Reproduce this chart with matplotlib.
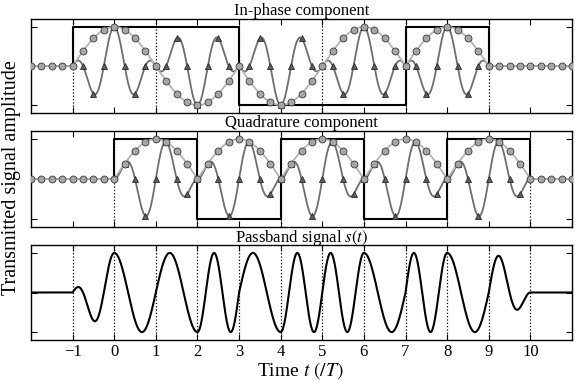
import numpy as np
import matplotlib
matplotlib.use("Agg")
import matplotlib.pyplot as plt

# ---- data ----
T = 1.0                       # symbol period
fc = 1.0                      # carrier frequency (1/T)
i_bit_starts = [-1, 1, 3, 5, 7]     # each in-phase bit lasts 2T
i_bits = [1, 1, -1, -1, 1]
q_bit_starts = [0, 2, 4, 6, 8]      # quadrature bits offset by T
q_bits = [1, -1, 1, -1, 1]
x_ticks = list(range(-1, 11))
x_ticklabels = [str(v).replace('-', '\u2212') for v in x_ticks]
titles = ["In-phase component", "Quadrature component", "Passband signal $s(t)$"]

plt.rcParams['font.family'] = ['Liberation Serif', 'DejaVu Serif']
plt.rcParams['mathtext.fontset'] = 'stix'


def bit_wave(t, starts, bits):
    a = np.zeros_like(t)
    for s, b in zip(starts, bits):
        a[(t >= s) & (t < s + 2 * T)] = b
    return a


t = np.linspace(-2, 11, 4001)
tm = np.arange(-2, 11.001, 0.25)

aI = bit_wave(t, i_bit_starts, i_bits)
aQ = bit_wave(t, q_bit_starts, q_bits)
I = aI * np.cos(np.pi * t / (2 * T))
Q = aQ * np.sin(np.pi * t / (2 * T))
Ic = I * np.cos(2 * np.pi * fc * t)
Qs = Q * np.sin(2 * np.pi * fc * t)
s = Ic + Qs

aIm = bit_wave(tm, i_bit_starts, i_bits)
aQm = bit_wave(tm, q_bit_starts, q_bits)
Im = aIm * np.cos(np.pi * tm / (2 * T))
Qm = aQm * np.sin(np.pi * tm / (2 * T))
Icm = Im * np.cos(2 * np.pi * fc * tm)
Qsm = Qm * np.sin(2 * np.pi * fc * tm)

fig = plt.figure(figsize=(5.75, 3.83), dpi=100)
L, W = 31 / 575, (572 - 31) / 575
tops = [19, 131, 245]
bots = [113, 227, 340]
axes = []
for tp, bt in zip(tops, bots):
    ax = fig.add_axes([L, 1 - bt / 383, W, (bt - tp) / 383])
    axes.append(ax)


def square(starts, bits):
    xs, ys = [starts[0]], [0]
    for st, b in zip(starts, bits):
        xs += [st, st + 2 * T]
        ys += [b, b]
    xs.append(starts[-1] + 2 * T)
    ys.append(0)
    return xs, ys


light_line = '#b4b4b4'
dark_line = '#6e6e6e'

panels = [
    (i_bit_starts, i_bits, I, Ic, Im, Icm, aIm),
    (q_bit_starts, q_bits, Q, Qs, Qm, Qsm, aQm),
]
for ax, (starts, bits, env, mod, envm, modm, am) in zip(axes[:2], panels):
    bounds = [starts[0]] + [st + 2 * T for st in starts]
    for b in bounds:
        ax.axvline(b, color='black', ls=':', lw=0.9, zorder=1)
    xs, ys = square(starts, bits)
    ax.plot(xs, ys, color='black', lw=1.5, zorder=2)
    ax.plot(t, mod, color=dark_line, lw=1.3, zorder=3)
    active = (tm > starts[0]) & (tm < starts[-1] + 2 * T)
    ax.plot(tm[active], modm[active], ls='none', marker='^', ms=5,
            mfc='#5e5e5e', mec='#2a2a2a', mew=0.6, zorder=4)
    ax.plot(t, env, color=light_line, lw=1.3, zorder=5)
    ax.plot(tm, envm, ls='none', marker='o', ms=5,
            mfc='#a6a6a6', mec='#3a3a3a', mew=0.6, zorder=6)

ax = axes[2]
for b in x_ticks:
    ax.axvline(b, color='black', ls=':', lw=0.9, zorder=1)
ax.plot(t, s, color='black', lw=1.5, zorder=3)

for k, ax in enumerate(axes):
    ax.set_xlim(-2, 11)
    ax.set_ylim(-1.2, 1.2)
    ax.set_yticks([-1, 0, 1])
    ax.set_yticklabels([])
    ax.set_xticks(x_ticks)
    if k < 2:
        ax.set_xticklabels([])
    else:
        ax.set_xticklabels(x_ticklabels, fontsize=12)
    ax.tick_params(direction='in', top=True, right=True, length=4, width=0.8, pad=3)
    for sp in ax.spines.values():
        sp.set_linewidth(1.0)
    ax.set_title(titles[k], fontsize=12, pad=2)

fig.text(12 / 575, 1 - 178 / 383, 'Transmitted signal amplitude', rotation=90,
         ha='center', va='center', fontsize=14.5)
fig.text(300 / 575, 1 - 371 / 383, 'Time $t$ $(/T)$', ha='center', va='center', fontsize=14)

fig.savefig('out.png', dpi=100)
